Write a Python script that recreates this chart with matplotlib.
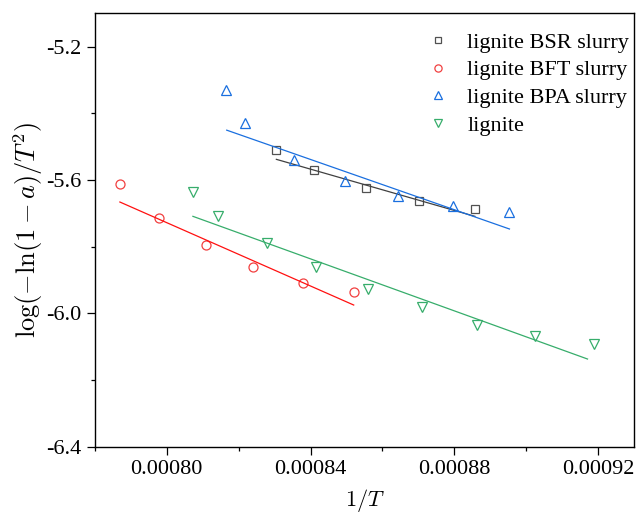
"""Arrhenius-type plot: log(-ln(1-a)/T^2) vs 1/T for lignite and its slurries."""

import matplotlib
matplotlib.use("Agg")
import matplotlib.pyplot as plt
import numpy as np
from matplotlib.ticker import FormatStrFormatter, MultipleLocator

plt.rcParams["font.family"] = ["Liberation Serif", "DejaVu Serif"]
plt.rcParams["mathtext.fontset"] = "cm"
plt.rcParams["axes.unicode_minus"] = False

LABELS = ["lignite BSR slurry", "lignite BFT slurry", "lignite BPA slurry", "lignite"]

# measured points (x = 1/T, y = log(-ln(1-a)/T^2))
BSR_X = [0.0008304, 0.0008410, 0.0008554, 0.0008702, 0.0008857]
BSR_Y = [-5.510, -5.570, -5.624, -5.663, -5.688]

BFT_X = [0.000787, 0.000798, 0.000811, 0.000824, 0.000838, 0.000852]
BFT_Y = [-5.612, -5.714, -5.795, -5.861, -5.910, -5.935]

BPA_X = [0.0008165, 0.0008218, 0.0008355, 0.0008497, 0.0008642, 0.0008795, 0.0008953]
BPA_Y = [-5.329, -5.428, -5.539, -5.604, -5.649, -5.677, -5.696]

LIG_X = [0.0008073, 0.0008143, 0.0008278, 0.0008416, 0.000856,
         0.0008711, 0.0008864, 0.0009024, 0.0009189]
LIG_Y = [-5.637, -5.709, -5.789, -5.861, -5.927, -5.981, -6.034, -6.067, -6.091]

# linear fits: y = intercept + slope * x, drawn over [xmin, xmax]
FIT_SLOPE = [-3097.8, -4753.8, -3772.0, -3901.5]
FIT_INTERCEPT = [-2.9653, -1.9248, -2.3699, -2.5593]
FIT_XMIN = [0.0008305, 0.000787, 0.0008167, 0.0008073]
FIT_XMAX = [0.0008857, 0.000852, 0.0008953, 0.000917]

MARKER_COLORS = ["#515151", "#F14040", "#1A6FDF", "#37AD6B"]
LINE_COLORS = ["#404040", "#FF1010", "#1A6FDF", "#37AD6B"]
MARKERS = ["s", "o", "^", "v"]
MARKER_SIZES = [5.5, 6.5, 7.3, 7.3]

series = [(BSR_X, BSR_Y), (BFT_X, BFT_Y), (BPA_X, BPA_Y), (LIG_X, LIG_Y)]

fig = plt.figure(figsize=(6.36, 5.16), dpi=100)
ax = fig.add_axes([0.1489, 0.1343, 0.8484, 0.8399])

for i, (xs, ys) in enumerate(series):
    ax.plot(xs, ys, linestyle="none", marker=MARKERS[i], markersize=MARKER_SIZES[i],
            markerfacecolor="none", markeredgecolor=MARKER_COLORS[i],
            markeredgewidth=0.9, label=LABELS[i])
    fx = np.array([FIT_XMIN[i], FIT_XMAX[i]])
    ax.plot(fx, FIT_INTERCEPT[i] + FIT_SLOPE[i] * fx, color=LINE_COLORS[i], linewidth=0.9)

ax.set_xlim(0.00078, 0.00093)
ax.set_ylim(-6.4, -5.1)
ax.xaxis.set_major_locator(MultipleLocator(0.00004))
ax.xaxis.set_minor_locator(MultipleLocator(0.00002))
ax.yaxis.set_major_locator(MultipleLocator(0.4))
ax.yaxis.set_minor_locator(MultipleLocator(0.2))
ax.xaxis.set_major_formatter(FormatStrFormatter("%.5f"))
ax.yaxis.set_major_formatter(FormatStrFormatter("%.1f"))
ax.tick_params(which="major", direction="out", length=6, width=0.9, labelsize=16)
ax.tick_params(which="minor", direction="out", length=3, width=0.9)
ax.tick_params(top=False, right=False, which="both")
for sp in ax.spines.values():
    sp.set_linewidth(1.0)

ax.set_xlabel(r"$1/T$", fontsize=16, labelpad=6)
ax.set_ylabel(r"$\log(-\ln(1-a)/T^2)$", fontsize=19, labelpad=1)

ax.legend(loc="upper left", bbox_to_anchor=(0.6, 0.977), frameon=False, fontsize=16,
          handlelength=1.0, handletextpad=0.8, labelspacing=0.32, borderaxespad=0.0,
          markerscale=0.8)

fig.savefig("out.png", dpi=100)
